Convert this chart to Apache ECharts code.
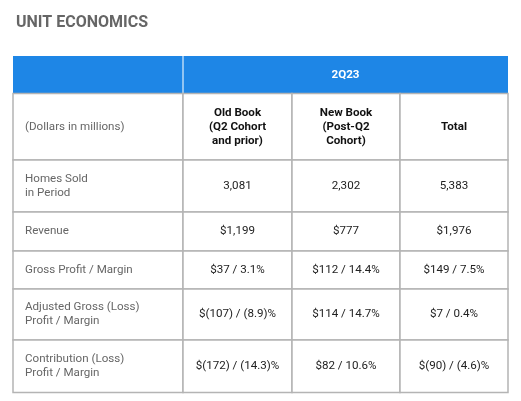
<!DOCTYPE html>
<html>
<head>
<meta charset="utf-8">
<script src="https://cdn.jsdelivr.net/npm/echarts@6/dist/echarts.min.js"></script>
<style>
html,body{margin:0;padding:0;background:#fff;}
#chart{width:521px;height:401px;}
</style>
</head>
<body>
<div id="chart"></div>
<script>
// ---- Data ----
const titleText = 'UNIT ECONOMICS';
const periodLabel = '2Q23';
const unitLabel = '(Dollars in millions)';
const columnHeaders = ['Old Book\n(Q2 Cohort\nand prior)', 'New Book\n(Post-Q2\nCohort)', 'Total'];
const metrics = [
  'Homes Sold\nin Period',
  'Revenue',
  'Gross Profit / Margin',
  'Adjusted Gross (Loss)\nProfit / Margin',
  'Contribution (Loss)\nProfit / Margin'
];
const oldBook = ['3,081', '$1,199', '$37 / 3.1%', '$(107) / (8.9)%', '$(172) / (14.3)%'];
const newBook = ['2,302', '$777', '$112 / 14.4%', '$114 / 14.7%', '$82 / 10.6%'];
const totalCol = ['5,383', '$1,976', '$149 / 7.5%', '$7 / 0.4%', '$(90) / (4.6)%'];

// ---- Layout (table units) ----
const colEdges = [0, 170, 279, 387, 495];
const rowEdges = [0, 37.5, 104, 156, 195, 233, 284, 336.5];

const BLUE = '#1E86E6';
const LINE = '#b4b4b4';
const FONT = 'Roboto, "Noto Sans", sans-serif';
const FS = '11.6px ';

// Build cells: [c0, c1, r0, r1], text, kind
const cells = [];
cells.push({ value: [0, 1, 0, 1], text: '', kind: 'blue' });
cells.push({ value: [1, 4, 0, 1], text: periodLabel, kind: 'blue' });
cells.push({ value: [0, 1, 1, 2], text: unitLabel, kind: 'label' });
columnHeaders.forEach((h, i) => cells.push({ value: [i + 1, i + 2, 1, 2], text: h, kind: 'head' }));
const dataCols = [oldBook, newBook, totalCol];
metrics.forEach((m, r) => {
  cells.push({ value: [0, 1, r + 2, r + 3], text: m, kind: 'label' });
  dataCols.forEach((col, c) => cells.push({ value: [c + 1, c + 2, r + 2, r + 3], text: col[r], kind: 'val' }));
});

function renderItem(params, api) {
  const c0 = api.value(0), c1 = api.value(1), r0 = api.value(2), r1 = api.value(3);
  const d = cells[params.dataIndex];
  const p0 = api.coord([colEdges[c0], rowEdges[r0]]);
  const p1 = api.coord([colEdges[c1], rowEdges[r1]]);
  const x = p0[0], y = p0[1], w = p1[0] - p0[0], h = p1[1] - p0[1];
  const children = [];
  if (d.kind === 'blue') {
    children.push({ type: 'rect', shape: { x: x, y: y, width: w, height: h }, style: { fill: BLUE } });
    if (c0 > 0) {
      children.push({ type: 'line', shape: { x1: x, y1: y, x2: x, y2: y + h }, style: { stroke: '#b9d8f6', lineWidth: 1.5 } });
    }
    if (d.text) {
      children.push({ type: 'text', style: { text: d.text, x: x + w / 2, y: y + h / 2, align: 'center', verticalAlign: 'middle', fill: '#ffffff', font: 'bold ' + FS + FONT } });
    }
  } else {
    children.push({ type: 'rect', shape: { x: x, y: y, width: w, height: h }, style: { fill: '#ffffff', stroke: LINE, lineWidth: 1.5 } });
    let style;
    if (d.kind === 'label') {
      style = { text: d.text, x: x + 12, y: y + h / 2, align: 'left', verticalAlign: 'middle', fill: '#666666', font: FS + FONT, lineHeight: 14 };
    } else if (d.kind === 'head') {
      style = { text: d.text, x: x + w / 2, y: y + h / 2, align: 'center', verticalAlign: 'middle', fill: '#111111', font: 'bold ' + FS + FONT, lineHeight: 14 };
    } else {
      style = { text: d.text, x: x + w / 2, y: y + h / 2, align: 'center', verticalAlign: 'middle', fill: '#222222', font: FS + FONT, lineHeight: 14 };
    }
    children.push({ type: 'text', style: style });
  }
  return { type: 'group', children: children };
}

const chart = echarts.init(document.getElementById('chart'), null, { renderer: 'canvas' });
chart.setOption({
  animation: false,
  backgroundColor: '#ffffff',
  title: {
    text: titleText, left: 11, top: 10,
    textStyle: { fontSize: 16, fontWeight: 'bold', color: '#666666', fontFamily: FONT }
  },
  grid: { left: 13, right: 13, top: 56, bottom: 8.5 },
  xAxis: { type: 'value', min: 0, max: colEdges[colEdges.length - 1], show: false },
  yAxis: { type: 'value', min: 0, max: rowEdges[rowEdges.length - 1], inverse: true, show: false },
  series: [{
    type: 'custom',
    renderItem: renderItem,
    encode: { x: [0, 1], y: [2, 3] },
    data: cells.map(c => ({ value: c.value }))
  }]
});
</script>
</body>
</html>
